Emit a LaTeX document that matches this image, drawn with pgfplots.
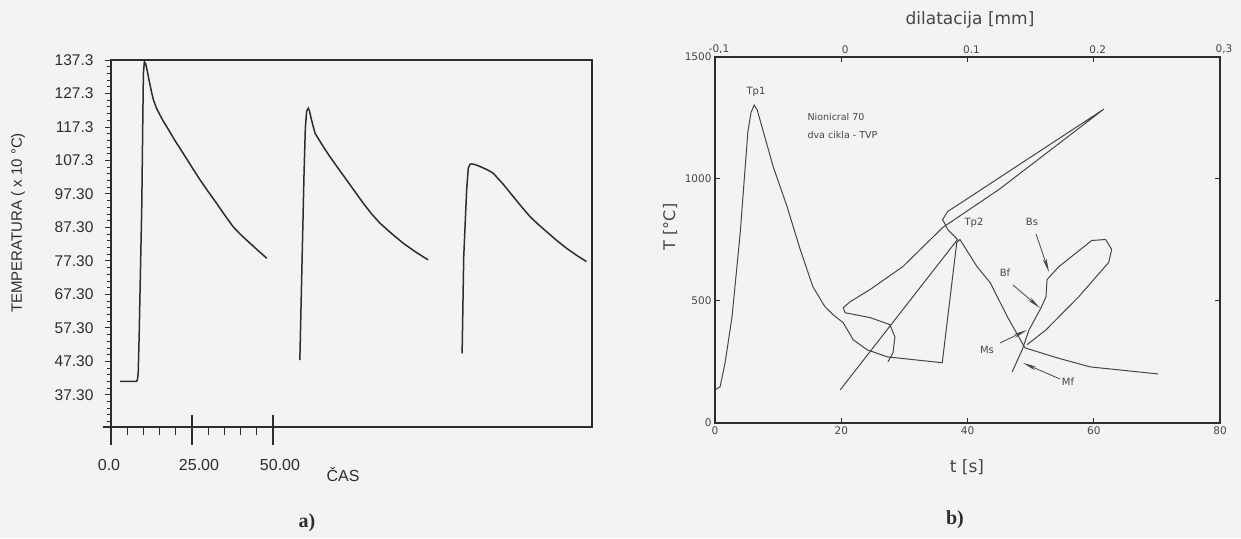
\documentclass[border=0pt]{standalone}
\usepackage{pgfplots}
\pgfplotsset{compat=1.18}
\usepackage{fontspec}
\setmainfont{Liberation Sans}
\newfontfamily\plotfont{DejaVu Sans}
\newfontfamily\serifbf{Liberation Serif}
\usetikzlibrary{arrows.meta}
\definecolor{bg}{RGB}{243,243,243}
\definecolor{ink}{RGB}{45,45,45}
\definecolor{pink}{RGB}{70,70,70}

\begin{document}
\begin{tikzpicture}
\useasboundingbox (0,0) rectangle (1241pt,538pt);
\fill[bg] (0,0) rectangle (1241pt,538pt);

% ---------------- a) ----------------
\begin{axis}[
  at={(111pt,111pt)}, anchor=south west, scale only axis,
  width=481pt, height=367pt,
  xmin=0, xmax=148.5, ymin=27.7, ymax=137.3,
  axis line style={ink, line width=1.3pt},
  xtick=\empty,
  ytick={37.3,47.3,57.3,67.3,77.3,87.3,97.3,107.3,117.3,127.3,137.3},
  yticklabels={37.30,47.30,57.30,67.30,77.30,87.30,97.30,107.3,117.3,127.3,137.3},
  minor ytick={29.3,31.3,33.3,35.3,39.3,41.3,43.3,45.3,49.3,51.3,53.3,55.3,59.3,61.3,63.3,65.3,69.3,71.3,73.3,75.3,79.3,81.3,83.3,85.3,89.3,91.3,93.3,95.3,99.3,101.3,103.3,105.3,109.3,111.3,113.3,115.3,119.3,121.3,123.3,125.3,129.3,131.3,133.3,135.3},
  ytick pos=left, tick align=outside,
  major tick length=6pt, minor tick length=4pt,
  tick style={ink, line width=0.9pt},
  yticklabel style={font=\fontsize{15.5}{17}\selectfont, text=ink, xshift=-8pt},
  /pgf/number format/assume math mode=true,
  clip=false,
]
\addplot[ink, line width=1.5pt] coordinates {
(2.8,41.3)(7.9,41.3)(8.2,42)(8.4,43.9)(8.7,55)(9.0,70)(9.5,93.5)(9.8,118)(10.0,133.3)(10.3,136.8)(10.7,136.2)(11.2,134)(11.8,131)(12.5,127.8)(13.1,125.4)(14.0,123)(15.1,120.9)(16.1,119.1)(17.2,117.4)(19.7,113.3)(22.3,109.4)(24.9,105.4)(27.5,101.5)(30.0,98)(32.6,94.5)(35.1,91)(37.7,87.5)(40.3,84.9)(42.9,82.6)(45.5,80.3)(48.1,78.1)};
\addplot[ink, line width=1.5pt] coordinates {
(58.3,47.7)(58.9,73.6)(59.6,103.5)(60.0,117)(60.4,122)(60.9,122.9)(61.3,122)(61.9,119.4)(63.0,115.4)(65.3,111.8)(67.6,108.4)(70.1,105)(72.7,101.5)(75.3,98)(77.9,94.5)(80.4,91.4)(83.0,88.6)(86.6,85.5)(90.2,82.6)(94,80)(97.9,77.6)};
\addplot[ink, line width=1.5pt] coordinates {
(108.4,49.7)(108.9,78.6)(109.8,98.5)(110.3,105.0)(110.8,106.1)(111.3,106.3)(112.6,106)(113.9,105.5)(116,104.6)(118.0,103.5)(121,100.3)(124.2,96.5)(126.8,93.4)(129.4,90.5)(131.9,88.2)(134.4,86.1)(137.5,83.5)(140.6,81.1)(143.7,79)(146.8,77.1)};
% x axis ticks (crossing majors, minors below)
\draw[ink, line width=1.3pt] ([xshift=-8pt]axis cs:0,27.7) -- (axis cs:0,27.7);
\pgfplotsinvokeforeach{0,25,50}{\draw[ink, line width=1.1pt] ([yshift=12pt]axis cs:#1,27.7) -- ([yshift=-18pt]axis cs:#1,27.7);}
\pgfplotsinvokeforeach{5,10,15,20,30,35,40,45}{\draw[ink, line width=0.9pt] (axis cs:#1,27.7) -- ([yshift=-8pt]axis cs:#1,27.7);}
\end{axis}
\node[ink, font=\fontsize{16}{18}\selectfont] at (109pt,73pt) {0.0};
\node[ink, font=\fontsize{16}{18}\selectfont] at (199pt,73pt) {25.00};
\node[ink, font=\fontsize{16}{18}\selectfont] at (280pt,73pt) {50.00};
\node[ink, font=\fontsize{16}{18}\selectfont] at (343pt,63pt) {ČAS};
\node[ink, rotate=90, font=\fontsize{15}{17}\selectfont] at (18pt,315pt) {TEMPERATURA ( x 10 °C)};
\node[ink, font=\serifbf\bfseries\fontsize{20}{22}\selectfont] at (307pt,15pt) {a)};

% ---------------- b) ----------------
\begin{axis}[
  at={(715pt,115pt)}, anchor=south west, scale only axis,
  width=505pt, height=366pt,
  xmin=0, xmax=80, ymin=0, ymax=1500,
  axis line style={ink, line width=1.8pt},
  xtick={0,20,40,60,80}, ytick={0,500,1000,1500},
  xtick pos=bottom, ytick pos=both, yticklabel pos=left,
  tick align=inside, major tick length=5pt,
  tick style={ink, line width=1pt},
  ticklabel style={font=\plotfont\fontsize{10.5}{12}\selectfont, text=pink},
  /pgf/number format/assume math mode=true,
  /pgf/number format/set thousands separator={},
  clip=false,
]
\addplot[pink, line width=1pt] coordinates {
(0,136)(0.8,148)(1.6,247)(2.7,436)(4.0,781)(5.2,1192)(5.7,1272)(6.2,1303)(6.7,1282)(7.1,1245)(9.2,1052)(11.4,888)(13.5,711)(15.5,559)(17.4,477)(18.7,444)(20.3,411)(21.9,341)(24.1,300)(27.3,271)(36.0,247)(38.3,740)(38.8,752)(41.5,641)(43.6,575)(46.3,436)(49.1,308)(54.2,267)(59.4,230)(70.2,201)};
\end{axis}
\begin{axis}[
  at={(715pt,115pt)}, anchor=south west, scale only axis,
  width=505pt, height=366pt,
  xmin=-0.1, xmax=0.3, ymin=0, ymax=1500,
  axis x line*=top, axis y line=none,
  axis line style={ink, line width=1.8pt},
  xtick={-0.1,0,0.1,0.2,0.3}, xticklabels={{-0,1},0,0.1,0.2,{0,3}},
  tick align=inside, major tick length=5pt,
  tick style={ink, line width=1pt},
  ticklabel style={font=\plotfont\fontsize{10.5}{12}\selectfont, text=pink},
  xticklabel style={xshift=4pt},
  clip=false,
]
\addplot[pink, line width=1pt] coordinates {
(0.0370,251)(0.0410,288)(0.0425,353)(0.0386,403)(0.0228,432)(0.0030,452)(0.0016,473)(0.0071,497)(0.0228,547)(0.0488,641)(0.0803,801)(0.1252,958)(0.2079,1286)
(0.1510,1093)(0.0992,917)(0.0843,867)(0.0803,834)(0.0843,793)(0.0921,752)(-0.0008,136)};
\addplot[pink, line width=1pt] coordinates {
(0.1472,321)(0.1622,382)(0.1882,518)(0.2118,658)(0.2142,711)(0.2094,752)(0.1984,748)(0.1724,641)(0.1630,588)(0.1622,518)(0.1583,473)(0.1488,382)(0.1433,300)(0.1354,210)};
\end{axis}
\node[pink, font=\plotfont\fontsize{17}{19}\selectfont] at (970pt,518pt) {dilatacija [mm]};
\node[pink, font=\plotfont\fontsize{17}{19}\selectfont] at (967pt,71pt) {t [s]};
\node[pink, rotate=90, font=\plotfont\fontsize{16}{18}\selectfont] at (670pt,311pt) {T [°C]};
\node[pink, font=\plotfont\fontsize{10}{12}\selectfont] at (756pt,446pt) {Tp1};
\node[pink, font=\plotfont\fontsize{10}{12}\selectfont] at (974pt,315pt) {Tp2};
\node[pink, anchor=west, font=\plotfont\fontsize{9.5}{11}\selectfont] at (804pt,421pt) {Nionicral 70};
\node[pink, anchor=west, font=\plotfont\fontsize{9.5}{11}\selectfont] at (804pt,403pt) {dva cikla - TVP};
\node[pink, font=\plotfont\fontsize{10}{12}\selectfont] at (1032pt,316pt) {Bs};
\node[pink, font=\plotfont\fontsize{10}{12}\selectfont] at (1005pt,265pt) {Bf};
\node[pink, font=\plotfont\fontsize{10}{12}\selectfont] at (987pt,188pt) {Ms};
\node[pink, font=\plotfont\fontsize{10}{12}\selectfont] at (1068pt,156pt) {Mf};
\begin{scope}[pink, line width=0.8pt, -{Stealth[length=14pt,width=4pt]}]
\draw (1036pt,304pt) -- (1049pt,266pt);
\draw (1013pt,253pt) -- (1040pt,230pt);
\draw (1000pt,195pt) -- (1027pt,208pt);
\draw (1060pt,159pt) -- (1023pt,175pt);
\end{scope}
\node[ink, font=\serifbf\bfseries\fontsize{20}{22}\selectfont] at (955pt,18pt) {b)};
\end{tikzpicture}
\end{document}
